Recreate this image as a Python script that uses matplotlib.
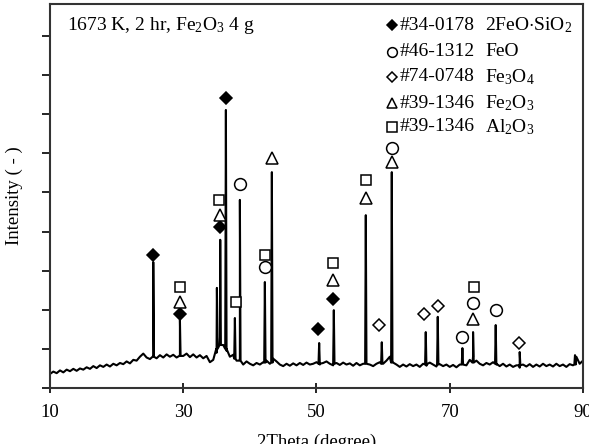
import numpy as np
import matplotlib
matplotlib.use("Agg")
import matplotlib.pyplot as plt

plt.rcParams['font.family'] = ['Liberation Serif', 'DejaVu Serif']
plt.rcParams['mathtext.fontset'] = 'custom'
plt.rcParams['mathtext.rm'] = 'Liberation Serif'
plt.rcParams['mathtext.it'] = 'Liberation Serif:italic'

# background trace, 10..90 deg in 0.5 deg steps
bg_theta = np.arange(10.0, 90.01, 0.5)
bg_int = [
    0.36, 0.42, 0.38, 0.45, 0.40, 0.47, 0.43, 0.49, 0.44, 0.50,
    0.47, 0.53, 0.49, 0.56, 0.51, 0.58, 0.54, 0.60, 0.55, 0.62,
    0.58, 0.64, 0.61, 0.68, 0.63, 0.72, 0.70, 0.80, 0.88, 0.78,
    0.74, 0.82, 0.76, 0.84, 0.78, 0.86, 0.80, 0.85, 0.78, 0.84,
    0.82, 0.88, 0.79, 0.86, 0.78, 0.84, 0.76, 0.82, 0.66, 0.72,
    0.90, 1.30, 1.10, 0.95, 0.80, 0.85, 0.70, 0.75, 0.60, 0.68,
    0.62, 0.58, 0.64, 0.60, 0.66, 0.70, 0.62, 0.75, 0.68, 0.60,
    0.56, 0.62, 0.57, 0.63, 0.58, 0.64, 0.59, 0.65, 0.60, 0.62,
    0.66, 0.60, 0.64, 0.68, 0.62, 0.58, 0.64, 0.59, 0.65, 0.60,
    0.63, 0.57, 0.64, 0.58, 0.62, 0.68, 0.60, 0.56, 0.62, 0.66,
    0.62, 0.70, 0.80, 0.65, 0.60, 0.54, 0.60, 0.55, 0.61, 0.56,
    0.60, 0.54, 0.62, 0.57, 0.65, 0.60, 0.55, 0.61, 0.56, 0.60,
    0.54, 0.59, 0.53, 0.60, 0.66, 0.58, 0.72, 0.80, 0.70, 0.62,
    0.58, 0.64, 0.60, 0.66, 0.60, 0.56, 0.62, 0.55, 0.60, 0.54,
    0.58, 0.52, 0.60, 0.55, 0.61, 0.54, 0.60, 0.55, 0.62, 0.56,
    0.60, 0.55, 0.62, 0.56, 0.60, 0.54, 0.61, 0.58, 0.80, 0.62,
    0.70,
]

# diffraction peaks: position, top, foot level
peak_pos = [25.5, 29.5, 35.05, 35.55, 36.4, 37.75, 38.5, 42.25, 43.3, 50.4,
            52.6, 57.4, 59.8, 61.3, 66.4, 68.2, 71.9, 73.5, 76.9, 80.5, 88.8]
peak_top = [3.22, 1.74, 2.56, 3.79, 7.11, 1.79, 4.81, 2.71, 5.52, 1.15,
            1.99, 4.42, 1.17, 5.52, 1.43, 1.82, 1.02, 1.43, 1.61, 0.92, 0.84]
peak_foot = [0.80, 0.82, 1.00, 1.10, 1.00, 0.75, 0.70, 0.65, 0.65, 0.62,
             0.62, 0.62, 0.62, 0.65, 0.60, 0.60, 0.60, 0.65, 0.62, 0.58, 0.60]

# phase markers (2theta, intensity)
fayalite_x = [25.5, 29.5, 35.5, 36.4, 50.3, 52.5]
fayalite_y = [3.40, 1.89, 4.12, 7.42, 1.51, 2.28]
wustite_x = [38.5, 42.2, 61.4, 71.9, 73.5, 76.9]
wustite_y = [5.22, 3.09, 6.14, 1.30, 2.17, 1.99]
magnetite_x = [59.4, 66.2, 68.2, 80.4]
magnetite_y = [1.61, 1.89, 2.10, 1.15]
hematite_x = [29.5, 35.5, 43.3, 52.5, 57.4, 61.4, 73.5]
hematite_y = [2.20, 4.42, 5.88, 2.76, 4.86, 5.78, 1.76]
alumina_x = [29.5, 35.4, 37.9, 42.3, 52.5, 57.4, 73.6]
alumina_y = [2.58, 4.81, 2.20, 3.40, 3.20, 5.32, 2.58]

card_no = ['#34-0178', '#46-1312', '#74-0748', '#39-1346', '#39-1346']
phase_names = [r'2FeO$\cdot$SiO$_2$', 'FeO', r'Fe$_3$O$_4$', r'Fe$_2$O$_3$', r'Al$_2$O$_3$']

# merge background and peaks into one trace
tx = list(bg_theta)
ty = list(bg_int)
for p, t, f in zip(peak_pos, peak_top, peak_foot):
    tx += [p - 0.1, p, p + 0.1]
    ty += [f, t, f]
order = np.argsort(tx, kind='stable')
tx = np.array(tx)[order]
ty = np.array(ty)[order]

fig = plt.figure(figsize=(5.89, 4.44), dpi=100)
ax = fig.add_axes([0.0849, 0.1261, 0.9049, 0.8649])
ax.plot(tx, ty, color='black', lw=1.5)

ms = dict(linestyle='none', color='black', mew=1.1)
ax.plot(fayalite_x, fayalite_y, marker='D', ms=6, mfc='black', **ms)
ax.plot(wustite_x, wustite_y, marker='o', ms=8.5, mfc='white', **ms)
ax.plot(magnetite_x, magnetite_y, marker='D', ms=6, mfc='white', **ms)
ax.plot(hematite_x, hematite_y, marker='^', ms=8, mfc='white', **ms)
ax.plot(alumina_x, alumina_y, marker='s', ms=7.5, mfc='white', **ms)

# legend drawn by hand in two columns
leg_marks = [('D', 'black', 5), ('o', 'white', 7), ('D', 'white', 5), ('^', 'white', 7), ('s', 'white', 6.5)]
rows = [0.945, 0.875, 0.810, 0.742, 0.680]
for (m, fc, s), yy, c, n in zip(leg_marks, rows, card_no, phase_names):
    ax.plot([0.642], [yy], marker=m, ms=s, mfc=fc, transform=ax.transAxes, **ms)
    ax.text(0.656, yy, c, transform=ax.transAxes, fontsize=14, va='center')
    ax.text(0.816, yy, n, transform=ax.transAxes, fontsize=14, va='center')

ax.text(0.032, 0.945, r'1673 K, 2 hr, Fe$_2$O$_3$ 4 g', transform=ax.transAxes,
        fontsize=14, va='center')

ax.set_xlim(10, 90)
ax.set_ylim(0, 9.82)
ax.set_xticks([10, 30, 50, 70, 90])
ax.set_yticks(range(10))
ax.set_yticklabels([])
ax.tick_params(axis='x', direction='inout', length=7, width=1.2, labelsize=13.5, pad=8)
ax.tick_params(axis='y', direction='out', length=6, width=1.2)
for s in ax.spines.values():
    s.set_linewidth(1.5)
    s.set_color('#333333')
ax.set_xlabel('2Theta (degree)', fontsize=13.5, labelpad=9)
ax.set_ylabel('Intensity ( - )', fontsize=13.5, labelpad=10)

fig.savefig('out.png', dpi=100)
